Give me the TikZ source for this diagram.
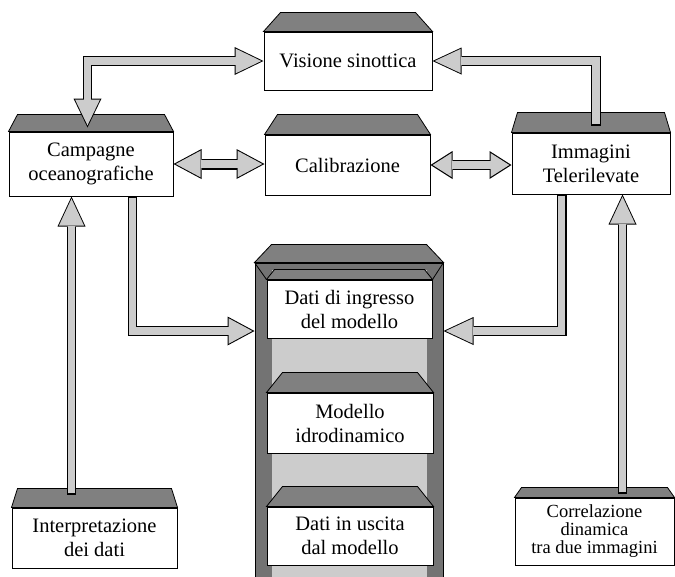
\documentclass[tikz,border=0pt]{standalone}
\usepackage{fontspec}
\setmainfont{Liberation Serif}
\usetikzlibrary{arrows.meta,calc}

\definecolor{stip}{gray}{0.80}
\definecolor{dense}{gray}{0.50}
\definecolor{framecol}{gray}{0.45}

% sloped roof on top of a box node: node, inset, height
\newcommand\roofon[3]{\filldraw[roof] (#1.north west) -- ++(#2,-#3) -- ($(#1.north east)+(-#2,-#3)$) -- (#1.north east) -- cycle;}

% broad outlined arrow: 1 = single/double (1/2), 2 = head length, 3 = head width, 4 = shaft width, 5 = path
\newcommand\fatarrow[5]{%
  \pgfmathsetmacro\Li{#2-3.2}%
  \pgfmathsetmacro\Wi{#3*(#2-3.2)/#2}%
  \pgfmathsetmacro\Si{#4-2.2}%
  \ifnum#1=2
    \draw[black,line width=#4pt,line join=miter,{Triangle[length=#2pt,width=#3pt,line width=0pt]}-{Triangle[length=#2pt,width=#3pt,line width=0pt]}] #5;
    \draw[stip,line width=\Si pt,line join=miter,shorten <=2.2pt,shorten >=2.2pt,{Triangle[length=\Li pt,width=\Wi pt,line width=0pt]}-{Triangle[length=\Li pt,width=\Wi pt,line width=0pt]}] #5;
  \else
    \draw[black,line width=#4pt,line join=miter,-{Triangle[length=#2pt,width=#3pt,line width=0pt]}] #5;
    \draw[stip,line width=\Si pt,line join=miter,shorten <=1.1pt,shorten >=2.2pt,-{Triangle[length=\Li pt,width=\Wi pt,line width=0pt]}] #5;
  \fi}

\begin{document}
\begin{tikzpicture}[x=1pt,y=-1pt,
  box/.style={draw=black,line width=1pt,fill=white,align=center,inner sep=0pt,
              font=\fontsize{20.5}{24}\selectfont},
  roof/.style={fill=dense,draw=black,line width=0.8pt}]
\useasboundingbox (0,0) rectangle (675,576);

% central model column
\node[draw=black,line width=1pt,fill=framecol,minimum width=188,minimum height=317,inner sep=0pt] (col) at (349,421.5) {};
\roofon{col}{17}{18}
\fill[stip] ($(col.north west)+(17,7)$) rectangle ($(col.south east)+(-17,0)$);

\node[box,minimum width=165,minimum height=58] (din) at (349.5,309) {Dati di ingresso\\del modello};
\roofon{din}{8}{10}
\draw[line width=0.8pt] (col.north west) -- (din.north west);
\draw[line width=0.8pt] (col.north east) -- (din.north east);

\node[box,minimum width=166,minimum height=60] (mod) at (350,423) {Modello\\idrodinamico};
\roofon{mod}{16}{20}
\node[box,minimum width=166,minimum height=58] (dout) at (350,536) {Dati in uscita\\dal modello};
\roofon{dout}{16}{20}

% surrounding boxes
\node[box,minimum width=168,minimum height=58] (vis) at (348,61) {Visione sinottica};
\roofon{vis}{17}{19}
\node[box,minimum width=164,minimum height=64] (camp) at (91,164) {Campagne\\oceanografiche};
\roofon{camp}{9}{17}
\node[box,minimum width=165,minimum height=60] (cal) at (347.5,165) {Calibrazione};
\roofon{cal}{13}{20}
\node[box,minimum width=158,minimum height=61] (imm) at (591,163.5) {Immagini\\Telerilevate};
\roofon{imm}{6}{20}
\node[box,minimum width=165,minimum height=60] (interp) at (94.5,538) {Interpretazione\\dei dati};
\roofon{interp}{6}{19}
\node[box,minimum width=159,minimum height=67,font=\fontsize{18.5}{18}\selectfont] (corr) at (594.5,531.5) {Correlazione\\dinamica\\tra due immagini};
\roofon{corr}{7}{10}

% connectors
\coordinate (inlev) at (0,331);
\coordinate (lup) at ($(interp.north west)+(60,-13)$);
\coordinate (rup) at ($(corr.north west)+(108,-4)$);

\fatarrow{2}{29}{28}{9.5}{(vis.west) -| ($(camp.north west)+(79,-4)$)}
\fatarrow{1}{29}{27}{9.5}{($(imm.north)+(5,-7)$) |- (vis.east)}
\fatarrow{2}{28}{30}{11}{(camp.east) -- (camp.east -| cal.west)}
\fatarrow{2}{22}{28}{10}{(cal.east) -- (cal.east -| imm.west)}
\fatarrow{1}{27}{29}{9.5}{($(camp.south west)+(124,0)$) |- (col.west |- inlev)}
\fatarrow{1}{30}{28}{10}{($(imm.south west)+(50,0)$) |- (col.east |- inlev)}
\fatarrow{1}{30}{28}{9}{(lup) -- (lup |- camp.south)}
\fatarrow{1}{30}{28}{9.5}{(rup) -- (rup |- imm.south)}
\end{tikzpicture}
\end{document}
